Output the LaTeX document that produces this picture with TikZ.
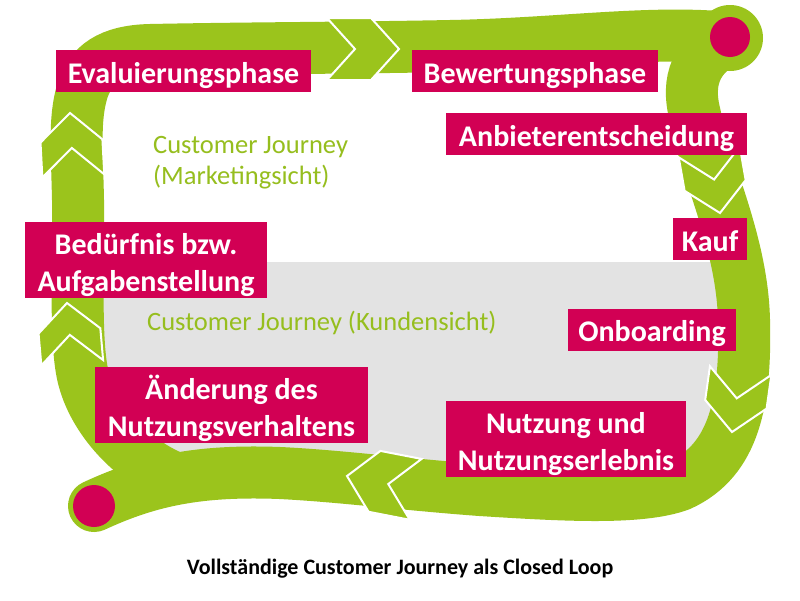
\documentclass[tikz,border=0pt]{standalone}
\usepackage{fontspec}
\setmainfont{Carlito}
\definecolor{loopgreen}{RGB}{155,196,28}
\definecolor{labelgreen}{RGB}{150,190,30}
\definecolor{pinkbox}{RGB}{210,0,84}
\definecolor{panelgray}{RGB}{227,227,227}
\newcommand\lowered[2]{\raisebox{-#1}[\height][\depth]{#2}}
\newcommand\chevat[4]{\path[chevstyle,shift={(#1,#2)},rotate=#3] (0,0) -- (-28,31) -- ({-28-#4},31) -- ({-#4},0) -- ({-28-#4},-31) -- (-28,-31) -- cycle;}
\begin{document}
\begin{tikzpicture}[x=1pt,y=-1pt,
  band/.style={draw=loopgreen, line width=52pt, line cap=round},
  chevstyle/.style={fill=loopgreen, draw=white, line width=2pt, line join=miter},
  stage/.style={fill=pinkbox, text=white, font=\bfseries\fontsize{30}{37}\selectfont, inner sep=0pt},
  single/.style={stage, text height=30pt, text depth=6pt, minimum height=42pt},
  double/.style={stage, minimum height=76pt},
  view/.style={text=labelgreen, font=\fontsize{26.5}{31}\selectfont, inner sep=0pt},
  knob/.style={fill=pinkbox}]
\useasboundingbox (0,0) rectangle (800,600);
\fill[white] (0,0) rectangle (800,600);
% Kundensicht panel
\fill[panelgray] (100,262) -- (725,262) -- (725,478) -- (160,478) -- (125,440) -- (100,390) -- cycle;
% loop
\draw[band] (170,476) .. controls (130,458) and (95,420) .. (84,380)
  .. controls (74,345) and (79,260) .. (78,200)
  .. controls (77,150) and (74,120) .. (82,92)
  .. controls (90,65) and (110,51) .. (150,50)
  .. controls (250,48) and (350,48) .. (450,46)
  .. controls (560,44) and (650,30) .. (730,38);
\draw[band] (730,38) .. controls (696,55) and (686,80) .. (695,115)
  .. controls (705,170) and (742,240) .. (744,320)
  .. controls (746,400) and (735,460) .. (680,485)
  .. controls (640,500) and (560,495) .. (480,490)
  .. controls (400,484) and (340,476) .. (280,473)
  .. controls (200,470) and (150,480) .. (94,506);
\fill[loopgreen] (730,38) circle (33);
% chevrons
\chevat{399}{49}{0}{44}
\chevat{720}{213}{-80}{34}
\chevat{732}{432}{-98}{34}
\chevat{347}{476}{169}{42}
\chevat{67}{303}{95}{32}
\chevat{70}{113}{93}{35}
% end knobs
\fill[knob] (730,37) circle (20);
\fill[knob] (94,506) circle (21);
% stages
\node[single, minimum width=255pt] (evaluierung) at (183.5,71) {Evaluierungsphase};
\node[single, minimum width=246pt] (bewertung) at (535,71) {Bewertungsphase};
\node[single, minimum width=301pt] (anbieter) at (596.5,134) {Anbieterentscheidung};
\node[single, minimum width=74pt] (kauf) at (710,239) {Kauf};
\node[single, minimum width=168pt] (onboarding) at (652,329.5) {Onboarding};
\node[double, minimum width=242pt] (beduerfnis) at (146,260) {\lowered{5.5pt}{\begin{tabular}{@{}c@{}}Bedürfnis bzw.\\Aufgabenstellung\end{tabular}}};
\node[double, minimum width=240pt] (nutzung) at (566,439) {\lowered{5.5pt}{\begin{tabular}{@{}c@{}}Nutzung und\\Nutzungserlebnis\end{tabular}}};
\node[double, minimum width=273pt] (aenderung) at (231.5,405) {\lowered{5.5pt}{\begin{tabular}{@{}c@{}}Änderung des\\Nutzungsverhaltens\end{tabular}}};
% views
\node[view, anchor=base west] (marketing) at (153,153) {\begin{tabular}[t]{@{}l@{}}Customer Journey\\(Marketingsicht)\end{tabular}};
\node[view, anchor=base west] (kunden) at (147,330) {Customer Journey (Kundensicht)};
% caption
\node[anchor=base, inner sep=0pt, font=\bfseries\fontsize{22}{26}\selectfont] (caption) at (400,574) {Vollständige Customer Journey als Closed Loop};
\end{tikzpicture}
\end{document}
